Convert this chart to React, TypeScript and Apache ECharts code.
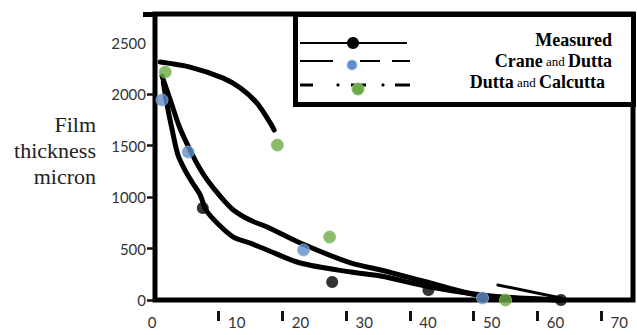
import React, { useEffect, useRef } from "react";
import * as echarts from "echarts";

// ---- axis ticks / labels ----
const xTickLabels = [0, 10, 20, 30, 40, 50, 60, 70];
const xTickMarks = [10, 20, 30, 40, 50, 60, 70];
const yTickLabels = [0, 500, 1000, 1500, 2000, 2500];
const yTickMarks = [0, 500, 1000, 1500, 2000];

// ---- legend / axis texts ----
const legendNames = ["Measured", "Crane and Dutta", "Dutta and Calcutta"];
const yAxisTitle = ["Film", "thickness", "micron"];

// ---- data points (x, film thickness in micron) ----
const measuredPoints = [[7.5, 894], [27.8, 175], [42.9, 97], [63.7, 0]];
const craneDuttaPoints = [[1.1, 1944], [5.2, 1438], [23.3, 486], [51.4, 19]];
const duttaCalcuttaPoints = [[1.6, 2216], [19.2, 1506], [27.4, 612], [55.0, 0]];

// ---- drawn curves ----
const upperCurve = [
  [1.1, 2177], [2.4, 1944], [3.9, 1672], [5.5, 1458], [6.8, 1303], [8.2, 1166],
  [10.2, 1011], [12.3, 875], [14.9, 777], [17.6, 709], [22.8, 554], [30.7, 360],
  [35.4, 292], [43.2, 165], [48.4, 78], [52.7, 29], [63.7, 0],
];
const lowerCurve = [
  [1.3, 2119], [1.9, 1895], [2.7, 1652], [3.6, 1409], [4.7, 1263], [5.8, 1147],
  [7.1, 1020], [8.0, 875], [9.9, 739], [12.3, 612], [14.9, 554], [17.6, 486],
  [22.8, 360], [30.7, 272], [35.4, 233], [43.2, 126], [52.7, 39], [63.7, 0],
];
const arcCurve = [
  [0.8, 2313], [5.5, 2264], [10.7, 2157], [13.4, 2060], [16.0, 1914], [18.1, 1720], [18.7, 1652],
];
const tailStroke = [[53.8, 146], [63.7, 19]];

const SERIF = "'Liberation Serif', 'Times New Roman', serif";
const SANS = "Lato, 'Open Sans', sans-serif";

export default function App() {
  const ref = useRef<HTMLDivElement>(null);

  useEffect(() => {
    if (!ref.current) return;
    const chart = echarts.init(ref.current, null, { renderer: "svg" });

    const curve = (data: number[][], width = 5) => ({
      type: "line",
      data,
      smooth: 0.3,
      symbol: "none",
      clip: false,
      silent: true,
      lineStyle: { color: "#000", width, cap: "round" },
      z: 2,
    });

    const legendRich = {
      b: { fontFamily: SERIF, fontSize: 18, fontWeight: "bold", color: "#111" },
      s: { fontFamily: SERIF, fontSize: 13, color: "#111" },
    };
    const legendText = (name: string) =>
      name
        .split(" ")
        .map((w) => (w === "and" ? `{s|${w}}` : `{b|${w}}`))
        .join("{s| }");

    const option: any = {
      animation: false,
      backgroundColor: "#fff",
      grid: {
        left: 155,
        right: 4,
        top: 14,
        bottom: 35,
        show: true,
        borderColor: "#000",
        borderWidth: 5,
        backgroundColor: "transparent",
      },
      xAxis: [
        {
          type: "value",
          min: 0,
          max: 75,
          axisLine: { show: false },
          axisTick: { show: false },
          splitLine: { show: false },
          axisLabel: {
            customValues: xTickLabels,
            margin: 14,
            color: "#333",
            fontFamily: SANS,
            fontSize: 15,
            formatter: (v: number) => (v === 0 ? `{z|${v}}` : `{s|${v}}`),
            rich: {
              z: { fontFamily: SANS, fontSize: 15, color: "#333", padding: [0, 6, 0, 0] },
              s: { fontFamily: SANS, fontSize: 15, color: "#333", padding: [0, 0, 0, 36] },
            },
          },
        },
        {
          type: "value",
          min: 0,
          max: 75,
          position: "bottom",
          offset: 11,
          axisLine: { show: false },
          splitLine: { show: false },
          axisLabel: { show: false },
          axisTick: {
            show: true,
            customValues: xTickMarks,
            length: 10,
            lineStyle: { color: "#111", width: 3 },
          },
        },
      ],
      yAxis: {
        type: "value",
        min: 0,
        max: 2780,
        axisLine: { show: false },
        splitLine: { show: false },
        axisTick: {
          show: true,
          customValues: yTickMarks,
          length: 8,
          lineStyle: { color: "#111", width: 2.5 },
        },
        axisLabel: {
          customValues: yTickLabels,
          margin: 9,
          color: "#333",
          fontFamily: SANS,
          fontSize: 15,
          formatter: (v: number) => String(v),
          padding: [0, 0, 6, 0],
        },
        name: yAxisTitle.map((t) => `{t|${t}}`).join("\n") + "\n{g|}",
        nameLocation: "middle",
        nameRotate: 0,
        nameGap: 59,
        nameTextStyle: {
          fontFamily: SERIF,
          fontSize: 22,
          lineHeight: 26,
          color: "#222",
          align: "right",
          rich: {
            t: { fontFamily: SERIF, fontSize: 22, lineHeight: 26, color: "#222" },
            g: { fontSize: 2, lineHeight: 14 },
          },
        },
      },
      series: [
        curve(upperCurve),
        curve(lowerCurve),
        curve(arcCurve),
        curve(tailStroke, 3),
        {
          type: "scatter",
          name: legendNames[0],
          data: measuredPoints,
          symbolSize: 12,
          clip: false,
          itemStyle: { color: "#000" },
          z: 3,
        },
        {
          type: "scatter",
          name: legendNames[1],
          data: craneDuttaPoints,
          symbolSize: 12,
          clip: false,
          itemStyle: { color: "#5f8fcb", borderColor: "#93b3dd", borderWidth: 1 },
          z: 3,
        },
        {
          type: "scatter",
          name: legendNames[2],
          data: duttaCalcuttaPoints,
          symbolSize: 12,
          clip: false,
          itemStyle: { color: "#6eaa46", borderColor: "#8fc46c", borderWidth: 1 },
          z: 3,
        },
      ],
      graphic: [
        {
          type: "line",
          z: 50,
          shape: { x1: 143, y1: 14.5, x2: 156, y2: 14.5 },
          style: { stroke: "#000", lineWidth: 5 },
        },
        {
          type: "group",
          z: 100,
          children: [
            {
              type: "rect",
              shape: { x: 295.5, y: 14.5, width: 338, height: 90 },
              style: { fill: "#fff", stroke: "#000", lineWidth: 5 },
            },
            // row 1: solid
            { type: "line", shape: { x1: 300, y1: 43, x2: 407, y2: 43 }, style: { stroke: "#000", lineWidth: 2 } },
            { type: "circle", shape: { cx: 353, cy: 43, r: 6 }, style: { fill: "#000" } },
            // row 2: dashed
            { type: "line", shape: { x1: 300, y1: 61, x2: 333, y2: 61 }, style: { stroke: "#000", lineWidth: 2 } },
            { type: "line", shape: { x1: 360, y1: 61, x2: 380, y2: 61 }, style: { stroke: "#000", lineWidth: 2 } },
            { type: "line", shape: { x1: 392, y1: 61, x2: 410, y2: 61 }, style: { stroke: "#000", lineWidth: 2 } },
            { type: "circle", shape: { cx: 352, cy: 65, r: 5 }, style: { fill: "#5f8fcb", stroke: "#9dbbe3", lineWidth: 1 } },
            // row 3: dash-dot
            { type: "line", shape: { x1: 300, y1: 85, x2: 313, y2: 85 }, style: { stroke: "#000", lineWidth: 3 } },
            { type: "circle", shape: { cx: 338, cy: 85, r: 1.6 }, style: { fill: "#000" } },
            { type: "line", shape: { x1: 351, y1: 85, x2: 366, y2: 85 }, style: { stroke: "#000", lineWidth: 3 } },
            { type: "circle", shape: { cx: 383, cy: 85, r: 1.6 }, style: { fill: "#000" } },
            { type: "line", shape: { x1: 395, y1: 85, x2: 410, y2: 85 }, style: { stroke: "#000", lineWidth: 3 } },
            { type: "circle", shape: { cx: 358, cy: 89, r: 6 }, style: { fill: "#6eaa46", stroke: "#8fc46c", lineWidth: 1 } },
            // texts
            {
              type: "text",
              x: 612,
              y: 40,
              style: { text: legendText(legendNames[0]), rich: legendRich, align: "right", verticalAlign: "middle" },
            },
            {
              type: "text",
              x: 612,
              y: 61,
              style: { text: legendText(legendNames[1]), rich: legendRich, align: "right", verticalAlign: "middle" },
            },
            {
              type: "text",
              x: 605,
              y: 82,
              style: { text: legendText(legendNames[2]), rich: legendRich, align: "right", verticalAlign: "middle" },
            },
          ],
        },
      ],
    };

    chart.setOption(option);
    return () => chart.dispose();
  }, []);

  return (
    <div
      ref={ref}
      style={{ position: "fixed", left: 0, top: 0, width: 637, height: 335, background: "#fff" }}
    />
  );
}
